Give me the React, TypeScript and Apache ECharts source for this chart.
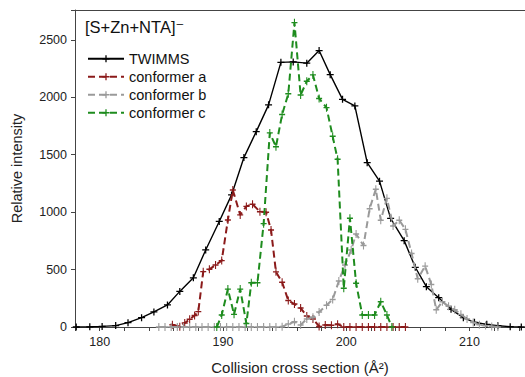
import React, { useEffect, useRef } from "react";
import * as echarts from "echarts";

const seriesNames = ["TWIMMS", "conformer a", "conformer b", "conformer c"];

const twimmsX = [178.1, 179.2, 180.2, 181.3, 182.3, 183.4, 184.4, 185.5, 186.5, 187.6, 188.6, 189.7, 190.7, 191.7, 192.7, 193.7, 194.7, 195.7, 196.8, 197.8, 198.7, 199.7, 200.7, 201.7, 202.7, 203.6, 204.7, 205.6, 206.5, 207.5, 208.5, 209.5, 210.4, 211.4, 212.3, 213.3, 214.2];
const twimmsY = [0, 2, 5, 12, 38, 81, 131, 192, 310, 428, 671, 919, 1150, 1475, 1701, 1934, 2304, 2308, 2297, 2407, 2197, 1982, 1925, 1431, 1270, 946, 752, 520, 351, 255, 154, 81, 41, 23, 11, 3, 0];

const confAX = [185.9, 186.5, 186.9, 187.3, 187.7, 188.0, 188.4, 188.9, 189.4, 189.9, 190.4, 190.8, 191.4, 191.9, 192.4, 193.0, 193.5, 193.9, 194.3, 194.8, 195.3, 195.8, 196.3, 196.8, 197.3, 197.8, 198.3, 198.8, 199.3, 199.8, 200.3, 200.8, 201.3, 201.8, 202.3, 202.8, 203.3, 203.8, 204.3, 204.8];
const confAY = [20, 3, 35, 67, 100, 134, 482, 502, 540, 578, 932, 1193, 976, 1050, 1069, 1004, 999, 845, 480, 390, 230, 200, 165, 95, 70, 5, 17, 15, 25, 0, 0, 0, 0, 0, 0, 0, 0, 0, 0, 0];

const confBX = [184.8, 185.3, 185.8, 186.3, 186.8, 187.3, 187.8, 188.3, 188.8, 189.3, 189.8, 190.3, 190.8, 191.3, 191.8, 192.3, 192.8, 193.3, 193.8, 194.3, 194.8, 195.3, 195.8, 196.3, 196.8, 197.3, 197.8, 198.4, 198.9, 199.4, 199.9, 200.4, 200.8, 201.4, 201.9, 202.4, 202.8, 203.3, 203.8, 204.3, 204.8, 205.3, 205.8, 206.4, 206.9, 207.3, 207.8, 208.3, 208.8, 209.3, 209.8, 210.3, 210.8, 211.3, 211.8, 212.3];
const confBY = [0, 0, 0, 0, 0, 0, 0, 0, 0, 0, 0, 0, 0, 0, 0, 0, 0, 0, 0, 0, 3, 26, 46, 17, 70, 85, 130, 190, 240, 400, 540, 670, 810, 710, 1030, 1200, 930, 1120, 880, 930, 850, 640, 420, 530, 370, 150, 220, 180, 150, 110, 70, 40, 20, 12, 5, 0];

const confCX = [189.5, 189.9, 190.4, 190.9, 191.4, 191.9, 192.3, 192.8, 193.3, 193.8, 194.3, 194.8, 195.3, 195.8, 196.3, 196.8, 197.3, 197.8, 198.4, 198.9, 199.3, 199.8, 200.3, 200.8, 201.3, 201.8, 202.3, 202.8, 203.3, 203.7];
const confCY = [0, 105, 330, 110, 330, 30, 385, 385, 900, 1690, 1570, 1850, 2030, 2650, 2020, 2140, 2195, 1990, 1910, 1660, 1460, 337, 947, 381, 105, 105, 105, 220, 105, 0];

const yTicks = [0, 500, 1000, 1500, 2000, 2500];
const xLabels = [180, 190, 200, 210];

const PLUS =
  "path://M-1,-0.18 L-0.18,-0.18 L-0.18,-1 L0.18,-1 L0.18,-0.18 L1,-0.18 L1,0.18 L0.18,0.18 L0.18,1 L-0.18,1 L-0.18,0.18 L-1,0.18 Z";

const FONT = "'Liberation Sans', Arial, 'DejaVu Sans', sans-serif";

function zip(xs: number[], ys: number[]) {
  return xs.map((x, i) => [x, ys[i]]);
}

export default function App() {
  const ref = useRef<HTMLDivElement>(null);
  useEffect(() => {
    if (!ref.current) return;
    const chart = echarts.init(ref.current, null, { renderer: "svg" });
    const colors = ["#000000", "#8b1a1a", "#9a9a9a", "#1e8c1e"];
    const datasets = [zip(twimmsX, twimmsY), zip(confAX, confAY), zip(confBX, confBY), zip(confCX, confCY)];
    const axisColor = "#444";
    chart.setOption({
      animation: false,
      grid: { left: 75, top: 10, right: 0, bottom: 50, show: false, outerBoundsMode: "none", containLabel: false },
      title: {
        text: "[S+Zn+NTA]⁻",
        left: 80,
        top: 13,
        textStyle: { fontSize: 16.5, fontWeight: "normal", color: "#111", fontFamily: FONT },
      },
      legend: {
        orient: "vertical",
        left: 82,
        top: 46,
        itemWidth: 36,
        itemHeight: 9,
        itemGap: 2.5,
        data: seriesNames,
        textStyle: { fontSize: 14.5, lineHeight: 15.5, color: "#111", fontFamily: FONT },
      },
      xAxis: [
        {
          type: "value",
          min: 178,
          max: 214.5,
          interval: 2,
          name: "Collision cross section (Å²)",
          nameLocation: "middle",
          nameGap: 33,
          nameTextStyle: { fontSize: 15, color: "#222", fontFamily: FONT },
          axisLine: { lineStyle: { color: axisColor, width: 1 } },
          axisTick: { show: true, length: 4, lineStyle: { color: axisColor } },
          splitLine: { show: false },
          axisLabel: {
            fontSize: 12.5,
            color: "#222",
            fontFamily: FONT,
            margin: 8,
            formatter: (v: number) => (xLabels.includes(v) ? String(v) : ""),
          },
        },
        {
          type: "value",
          position: "top",
          min: 178,
          max: 214.5,
          axisLine: { show: true, lineStyle: { color: axisColor, width: 1 } },
          axisTick: { show: false },
          axisLabel: { show: false },
          splitLine: { show: false },
        },
      ],
      yAxis: {
        type: "value",
        min: 0,
        max: 2760,
        interval: 500,
        name: "Relative intensity",
        nameLocation: "middle",
        nameGap: 51,
        nameTextStyle: { fontSize: 14.5, color: "#222", fontFamily: FONT },
        axisLine: { show: true, lineStyle: { color: axisColor, width: 1 } },
        axisTick: { show: true, length: 4, lineStyle: { color: axisColor } },
        splitLine: { show: false },
        axisLabel: {
          fontSize: 12.5,
          color: "#222",
          fontFamily: FONT,
          margin: 8,
          formatter: (v: number) => (yTicks.includes(v) ? String(v) : ""),
        },
      },
      series: seriesNames.map((name, i) => ({
        name,
        type: "line",
        xAxisIndex: 0,
        data: datasets[i],
        color: colors[i],
        symbol: PLUS,
        symbolSize: i === 0 ? [7, 7] : [6, 8],
        showAllSymbol: true,
        lineStyle: { color: colors[i], width: i === 0 ? 1.4 : 2, type: i === 0 ? "solid" : [7, 4] },
        itemStyle: { color: colors[i] },
        z: 2 + i,
      })),
    });
    return () => chart.dispose();
  }, []);
  return <div ref={ref} style={{ position: "fixed", left: 0, top: 0, width: 525, height: 377, background: "#fff" }} />;
}
